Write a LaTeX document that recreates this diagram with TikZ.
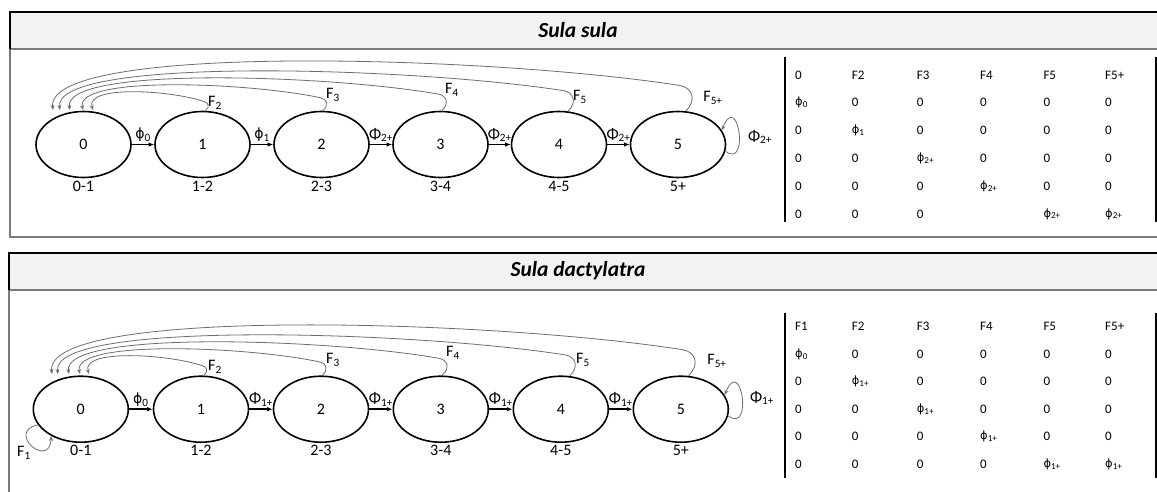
\documentclass[tikz,border=0pt]{standalone}
\usepackage{fontspec}
\setmainfont{Carlito}
\newfontfamily\phifont{DejaVu Sans}[Scale=0.88]
\usetikzlibrary{arrows.meta,shapes.geometric}
\definecolor{hdr}{HTML}{F2F2F2}
\definecolor{arcg}{HTML}{6E6E6E}
\definecolor{frameg}{HTML}{7A7A7A}
\newcommand{\sph}[1]{{\phifont ϕ}\textsubscript{#1}}
\newcommand{\cph}[1]{Φ\textsubscript{#1}}
\newcommand{\Fs}[1]{F\textsubscript{#1}}
% #1 start anchor, #2 xs, #3 ys, #4 tip name, #5 xe, #6 peak y
\newcommand\retarc[6]{%
  \draw[ret] (#1) .. controls ({#2+0.24*(#3-#6)},{#3-0.24*(#3-#6)}) and ({#2+0.14*(#3-#6)},{#3-0.48*(#3-#6)}) .. ({#2-0.1*(#3-#6)},{#3-0.52*(#3-#6)})
  .. controls ({#2-0.1*(#3-#6)-0.3*(#2-#5)},{#6-0.1*(#3-#6)}) and ({#5-8},{#6-0.36*(#3-#6)}) .. (#4);}
\begin{document}
\begin{tikzpicture}[x=1pt,y=-1pt,
  stage/.style={ellipse,draw=black,line width=1.6pt,minimum width=95pt,minimum height=66pt,inner sep=0pt,font=\fontsize{16}{18}\selectfont},
  lab/.style={font=\fontsize{16}{18}\selectfont,inner sep=0pt},
  phl/.style={midway,above=2pt,font=\fontsize{16}{18}\selectfont,inner sep=0pt},
  fw/.style={line width=1.5pt,-{Latex[length=5.5pt,width=4.5pt]}},
  ret/.style={draw=arcg,line width=0.8pt,-{Stealth[length=5pt,width=4pt]}},
  tab/.style={anchor=west,font=\fontsize{13}{15}\selectfont,inner sep=0pt},
  title/.style={font=\fontsize{21.5}{23}\selectfont\bfseries\itshape},
  rule/.style={line width=1.2pt,black}]
\useasboundingbox (0,0) rectangle (1157,491);
\clip (0,0) rectangle (1157,491);
\fill[white] (0,0) rectangle (1157,491);

% ---------- panel 1 frame ----------
\fill[hdr] (10,12) rectangle (1165,49);
\draw[frameg,line width=1.6pt] (10,49) -- (10,237) -- (1165,237);
\draw[frameg,line width=2.2pt] (10,49) -- (1165,49);
\draw[black,line width=1.4pt] (10,49) -- (10,12) -- (1165,12);
\node[title] (h1) at (578,30.5) {Sula sula};

% ---------- panel 2 frame ----------
\fill[hdr] (9,253) rectangle (1165,290);
\draw[frameg,line width=1.6pt] (9,290) -- (9,500);
\draw[frameg,line width=2.2pt] (9,290) -- (1165,290);
\draw[black,line width=1.4pt] (9,290) -- (9,253) -- (1165,253);
\node[title] (h2) at (578,271) {Sula dactylatra};

% ---------- panel 1 diagram ----------
\foreach \i/\x/\l in {0/83.5/0-1,1/202.5/1-2,2/321.5/2-3,3/440.5/3-4,4/559/4-5,5/678/5+}{
  \node[stage] (a\i) at (\x,144.5) {\i};
  \node[lab] (la\i) at (\x,186) {\l};}
\draw[fw] (a0) -- (a1) node[phl] (pa1) {\sph{0}};
\draw[fw] (a1) -- (a2) node[phl] (pa2) {\sph{1}};
\draw[fw] (a2) -- (a3) node[phl] (pa3) {\cph{2+}};
\draw[fw] (a3) -- (a4) node[phl] (pa4) {\cph{2+}};
\draw[fw] (a4) -- (a5) node[phl] (pa5) {\cph{2+}};
\coordinate (ta2) at (93,110);
\coordinate (ta3) at (83,110);
\coordinate (ta4) at (70,110);
\coordinate (ta5) at (60,110);
\coordinate (ta6) at (53,110);
\retarc{a1.85}{205.6}{111.5}{ta2}{93}{92}
\retarc{a2.88}{323}{111.5}{ta3}{83}{85}
\retarc{a3.88}{441.7}{111.5}{ta4}{70}{78}
\retarc{a4.75}{567.7}{112}{ta5}{60}{71}
\retarc{a5.77}{685}{112}{ta6}{53}{61}
\node[lab] (fa2) at (215,102.7) {\Fs{2}};
\node[lab] (fa3) at (333,95) {\Fs{3}};
\node[lab] (fa4) at (452,90) {\Fs{4}};
\node[lab] (fa5) at (580,96.7) {\Fs{5}};
\node[lab] (fa6) at (713,98) {\Fs{5+}};
\draw[ret] (a5.-8) .. controls (750,170) and (738,90) .. (a5.18);
\node[lab] (loopa) at (760,137) {\cph{2+}};

% ---------- panel 1 table ----------
\draw[rule] (785,57) -- (785,222);
\draw[rule] (1156,57) -- (1156,222);
\foreach \x/\t [count=\c] in {795/0,851.7/F2,916.7/F3,980/F4,1043.3/F5,1105/F5+}
  \node[tab] (pr1c\c) at (\x,75) {\t};
\foreach \x/\t [count=\c] in {795/\sph{0},851.7/0,916.7/0,980/0,1043.3/0,1105/0}
  \node[tab] (pr2c\c) at (\x,102.8) {\t};
\foreach \x/\t [count=\c] in {795/0,851.7/\sph{1},916.7/0,980/0,1043.3/0,1105/0}
  \node[tab] (pr3c\c) at (\x,130.6) {\t};
\foreach \x/\t [count=\c] in {795/0,851.7/0,916.7/\sph{2+},980/0,1043.3/0,1105/0}
  \node[tab] (pr4c\c) at (\x,158.4) {\t};
\foreach \x/\t [count=\c] in {795/0,851.7/0,916.7/0,980/\sph{2+},1043.3/0,1105/0}
  \node[tab] (pr5c\c) at (\x,186.2) {\t};
\foreach \x/\t [count=\c] in {795/0,851.7/0,916.7/0,1043.3/\sph{2+},1105/\sph{2+}}
  \node[tab] (pr6c\c) at (\x,214) {\t};

% ---------- panel 2 diagram ----------
\foreach \i/\x/\l in {0/80.8/0-1,1/201/1-2,2/321/2-3,3/440.8/3-4,4/560.8/4-5,5/680.8/5+}{
  \node[stage] (b\i) at (\x,409.2) {\i};
  \node[lab] (lb\i) at (\x,450.5) {\l};}
\draw[fw] (b0) -- (b1) node[phl] (pb1) {\sph{0}};
\draw[fw] (b1) -- (b2) node[phl] (pb2) {\cph{1+}};
\draw[fw] (b2) -- (b3) node[phl] (pb3) {\cph{1+}};
\draw[fw] (b3) -- (b4) node[phl] (pb4) {\cph{1+}};
\draw[fw] (b4) -- (b5) node[phl] (pb5) {\cph{1+}};
\coordinate (tb2) at (89,374);
\coordinate (tb3) at (80,374);
\coordinate (tb4) at (69,374);
\coordinate (tb5) at (58,374);
\coordinate (tb6) at (52,374);
\retarc{b1.85}{204}{376}{tb2}{89}{356}
\retarc{b2.88}{322.5}{376}{tb3}{80}{349}
\retarc{b3.88}{442.5}{376}{tb4}{69}{342}
\retarc{b4.75}{569.5}{376.5}{tb5}{58}{335}
\retarc{b5.77}{688}{376.5}{tb6}{52}{325}
\node[lab] (fb2) at (215,366.7) {\Fs{2}};
\node[lab] (fb3) at (333,360) {\Fs{3}};
\node[lab] (fb4) at (453,353) {\Fs{4}};
\node[lab] (fb5) at (583,360) {\Fs{5}};
\node[lab] (fb6) at (717,361) {\Fs{5+}};
\draw[ret] (b5.-8) .. controls (753.3,434.7) and (741.3,354.7) .. (b5.18);
\node[lab] (loopb) at (762,398) {\cph{1+}};
\draw[ret] (b0.200) .. controls (5,432) and (50,470) .. (b0.222);
\node[lab] (fb1) at (24,453) {\Fs{1}};

% ---------- panel 2 table ----------
\draw[rule] (785,313) -- (785,478);
\draw[rule] (1156,313) -- (1156,478);
\foreach \x/\t [count=\c] in {795/F1,851.7/F2,916.7/F3,980/F4,1043.3/F5,1105/F5+}
  \node[tab] (qr1c\c) at (\x,326.7) {\t};
\foreach \x/\t [count=\c] in {795/\sph{0},851.7/0,916.7/0,980/0,1043.3/0,1105/0}
  \node[tab] (qr2c\c) at (\x,354.2) {\t};
\foreach \x/\t [count=\c] in {795/0,851.7/\sph{1+},916.7/0,980/0,1043.3/0,1105/0}
  \node[tab] (qr3c\c) at (\x,381.7) {\t};
\foreach \x/\t [count=\c] in {795/0,851.7/0,916.7/\sph{1+},980/0,1043.3/0,1105/0}
  \node[tab] (qr4c\c) at (\x,409.2) {\t};
\foreach \x/\t [count=\c] in {795/0,851.7/0,916.7/0,980/\sph{1+},1043.3/0,1105/0}
  \node[tab] (qr5c\c) at (\x,436.7) {\t};
\foreach \x/\t [count=\c] in {795/0,851.7/0,916.7/0,980/0,1043.3/\sph{1+},1105/\sph{1+}}
  \node[tab] (qr6c\c) at (\x,464.2) {\t};
\end{tikzpicture}
\end{document}
